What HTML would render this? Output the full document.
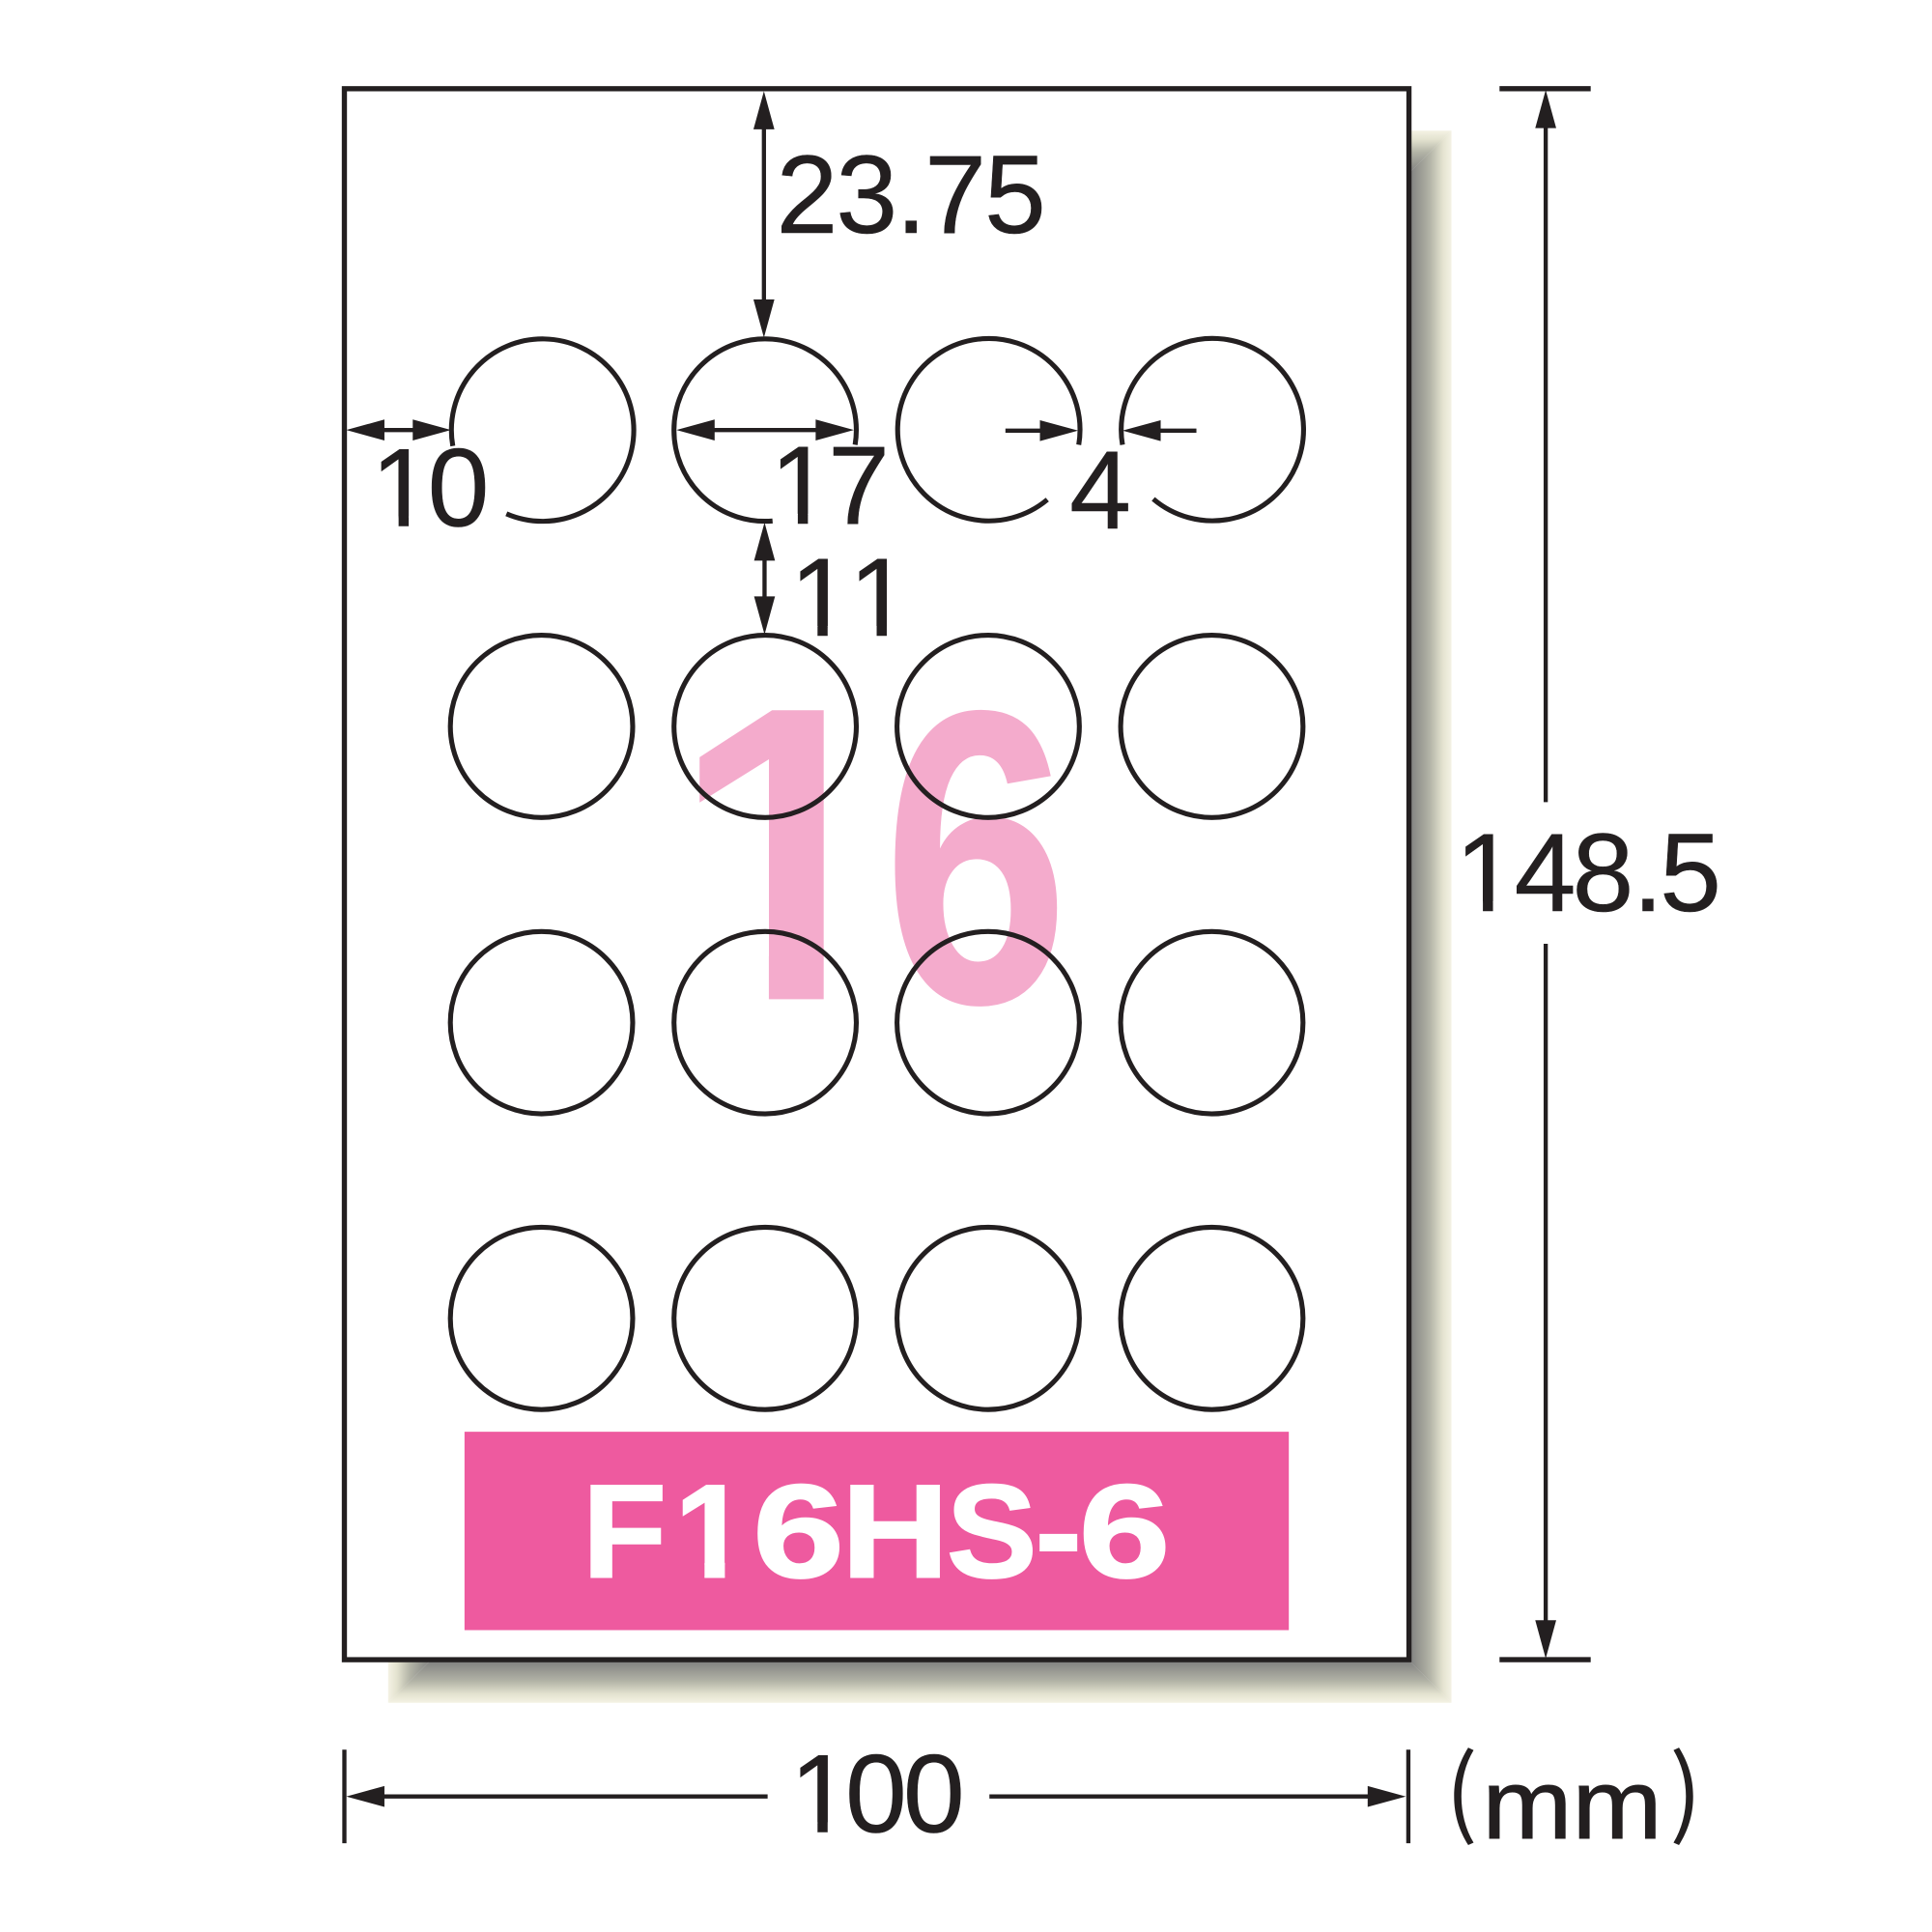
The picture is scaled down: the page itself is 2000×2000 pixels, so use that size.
<!DOCTYPE html>
<html><head><meta charset="utf-8"><style>
html,body{margin:0;padding:0;background:#fff;width:2000px;height:2000px;overflow:hidden}
svg{display:block}
text{font-family:"Liberation Sans",sans-serif;fill:#231f20}
.n{font-size:90px;stroke:#231f20;stroke-width:.4}
.w{font-size:108px;font-weight:bold;fill:#fff;stroke:#fff;stroke-width:1.4}
.p{font-weight:bold;fill:#f4abcc}
</style></head><body>
<svg width="2000" height="2000" viewBox="0 0 1568 1568" xmlns="http://www.w3.org/2000/svg">
<defs>
<linearGradient id="gr" gradientUnits="userSpaceOnUse" x1="1143" x2="1178" y1="0" y2="0"><stop offset="0" stop-color="#7d7d7d"/><stop offset=".5" stop-color="#b3b4a7"/><stop offset=".8" stop-color="#e4e3d0"/><stop offset="1" stop-color="#f4f2e4"/></linearGradient>
<linearGradient id="gb" gradientUnits="userSpaceOnUse" x1="0" x2="0" y1="1347" y2="1382"><stop offset="0" stop-color="#7d7d7d"/><stop offset=".5" stop-color="#b3b4a7"/><stop offset=".8" stop-color="#e4e3d0"/><stop offset="1" stop-color="#f4f2e4"/></linearGradient>
<linearGradient id="gt" gradientUnits="userSpaceOnUse" x1="0" x2="0" y1="106" y2="141"><stop offset="0" stop-color="#f4f2e4"/><stop offset=".2" stop-color="#e4e3d0"/><stop offset=".5" stop-color="#b3b4a7"/><stop offset="1" stop-color="#7d7d7d"/></linearGradient>
<linearGradient id="gl" gradientUnits="userSpaceOnUse" x1="315" x2="350" y1="0" y2="0"><stop offset="0" stop-color="#f4f2e4"/><stop offset=".2" stop-color="#e4e3d0"/><stop offset=".5" stop-color="#b3b4a7"/><stop offset="1" stop-color="#7d7d7d"/></linearGradient>
<clipPath id="cbig"><rect x="540" y="560" width="128.5" height="214"/><rect x="624" y="770" width="44.5" height="41.5"/></clipPath>
<clipPath id="cw"><rect x="540" y="1190" width="48.3" height="77.5"/><rect x="571.8" y="1265" width="16.5" height="16"/></clipPath>
<clipPath id="c10"><rect x="295" y="350" width="45" height="69"/><rect x="323.5" y="418" width="8.2" height="10"/></clipPath>
<clipPath id="c17"><rect x="620" y="350" width="46" height="67"/><rect x="647.5" y="416" width="8.2" height="10"/></clipPath>
<clipPath id="c11a"><rect x="636" y="440" width="46" height="68"/><rect x="663.5" y="507" width="8.2" height="10"/></clipPath>
<clipPath id="c11b"><rect x="684" y="440" width="46" height="68"/><rect x="711.5" y="507" width="8.2" height="10"/></clipPath>
<clipPath id="c148"><rect x="1176" y="660" width="46" height="71.5"/><rect x="1203.5" y="730" width="8.2" height="10.5"/></clipPath>
<clipPath id="c100"><rect x="636" y="1410" width="46" height="69"/><rect x="663.5" y="1478" width="8.2" height="10"/></clipPath>
</defs>
<rect width="1568" height="1568" fill="#fff"/>
<polygon points="1143,141 1178,106 1178,1382 1143,1347" fill="url(#gr)"/>
<polygon points="350,1347 1143,1347 1178,1382 315,1382" fill="url(#gb)"/>
<polygon points="1143,106 1178,106 1143,141" fill="url(#gt)"/>
<polygon points="315,1347 350,1347 315,1382" fill="url(#gl)"/>
<rect x="279.5" y="72" width="864" height="1275" fill="#fff" stroke="#231f20" stroke-width="4.2"/>
<text class="p" x="544.5" y="811" style="font-size:341px" clip-path="url(#cbig)">1</text>
<text class="p" style="font-size:340px" transform="translate(716.4 813.5) scale(.8 1)">6</text>
<rect x="377" y="1162" width="669" height="161" fill="#ee5a9f"/>
<text class="w" x="472.5" y="1280" transform="translate(472.5 1280) scale(1.04 1) translate(-472.5 -1280)">F</text>
<text class="w" x="547.4" y="1280" clip-path="url(#cw)">1</text>
<text class="w" transform="translate(610.8 1280) scale(1.24 1)">6</text>
<text class="w" transform="translate(682.8 1280) scale(1.12 1)">H</text>
<text class="w" transform="translate(768.2 1280) scale(1.02 1)">S</text>
<text class="w" transform="translate(840 1280) scale(1.06 1)">-</text>
<text class="w" transform="translate(875.4 1280) scale(1.24 1)">6</text>
<g fill="none" stroke="#231f20" stroke-width="4">
<path d="M367.5 362A74 74 0 1 1 411 417"/>
<path d="M627 422.8A74 74 0 1 1 694 361"/>
<path d="M850 405.5A74 74 0 1 1 875.5 361"/>
<path d="M911 361A74 74 0 1 1 936 405"/>
<circle cx="439.5" cy="589.5" r="74"/><circle cx="621" cy="589.5" r="74"/><circle cx="802" cy="589.5" r="74"/><circle cx="983.5" cy="589.5" r="74"/>
<circle cx="439.5" cy="830" r="74"/><circle cx="621" cy="830" r="74"/><circle cx="802" cy="830" r="74"/><circle cx="983.5" cy="830" r="74"/>
<circle cx="439.5" cy="1070" r="74"/><circle cx="621" cy="1070" r="74"/><circle cx="802" cy="1070" r="74"/><circle cx="983.5" cy="1070" r="74"/>
</g>
<g stroke="#231f20" stroke-width="3.4" fill="none">
<path d="M290 349H355M560 349H685M816 349.5H860M926 349.5H971"/>
<path d="M620 85V262M620.5 435V504M1254.5 85V651M1254.5 766V1335"/>
<path d="M292 1458H623M803 1458H1130"/>
<path d="M279.5 1420V1496M1143 1420V1496"/>
<path d="M1217 72H1291M1217 1347H1291" stroke-width="4.2"/>
</g>
<g fill="#231f20">
<polygon points="281,349 312,340.5 312,357.5"/><polygon points="366,349 335,340.5 335,357.5"/>
<polygon points="549,349 580,340.5 580,357.5"/><polygon points="693,349 662,340.5 662,357.5"/>
<polygon points="875,349.5 844,341 844,358"/><polygon points="911,349.5 942,341 942,358"/>
<polygon points="620,74 611.5,105 628.5,105"/><polygon points="620,274 611.5,243 628.5,243"/>
<polygon points="620.5,424 612,455 629,455"/><polygon points="620.5,515 612,484 629,484"/>
<polygon points="1254.5,73 1246,104 1263,104"/><polygon points="1254.5,1346 1246,1315 1263,1315"/>
<polygon points="281,1458 312,1449.5 312,1466.5"/><polygon points="1141,1458 1110,1449.5 1110,1466.5"/>
</g>
<text class="n" x="630" y="189" textLength="219" lengthAdjust="spacing">23.75</text>
<text class="n" x="301" y="427" clip-path="url(#c10)">1</text><text class="n" x="347" y="427">0</text>
<text class="n" x="625" y="425" clip-path="url(#c17)">1</text><text class="n" x="672" y="425">7</text>
<text class="n" x="641" y="516" clip-path="url(#c11a)">1</text><text class="n" x="689" y="516" clip-path="url(#c11b)">1</text>
<text class="n" x="868" y="429">4</text>
<text class="n" x="1181" y="739.5" clip-path="url(#c148)">1</text><text class="n" x="1229 1276 1325 1347" y="739.5">48.5</text>
<text class="n" x="641" y="1487" clip-path="url(#c100)">1</text><text class="n" x="686 733" y="1487">00</text>
<text x="1173" y="1482" style="font-size:78px;font-family:'Noto Sans CJK JP','Liberation Sans',sans-serif">(</text>
<text x="1203" y="1492" style="font-size:80px;stroke:#231f20;stroke-width:.8" textLength="146" lengthAdjust="spacingAndGlyphs">mm</text>
<text x="1355" y="1482" style="font-size:78px;font-family:'Noto Sans CJK JP','Liberation Sans',sans-serif">)</text>
</svg>
</body></html>
